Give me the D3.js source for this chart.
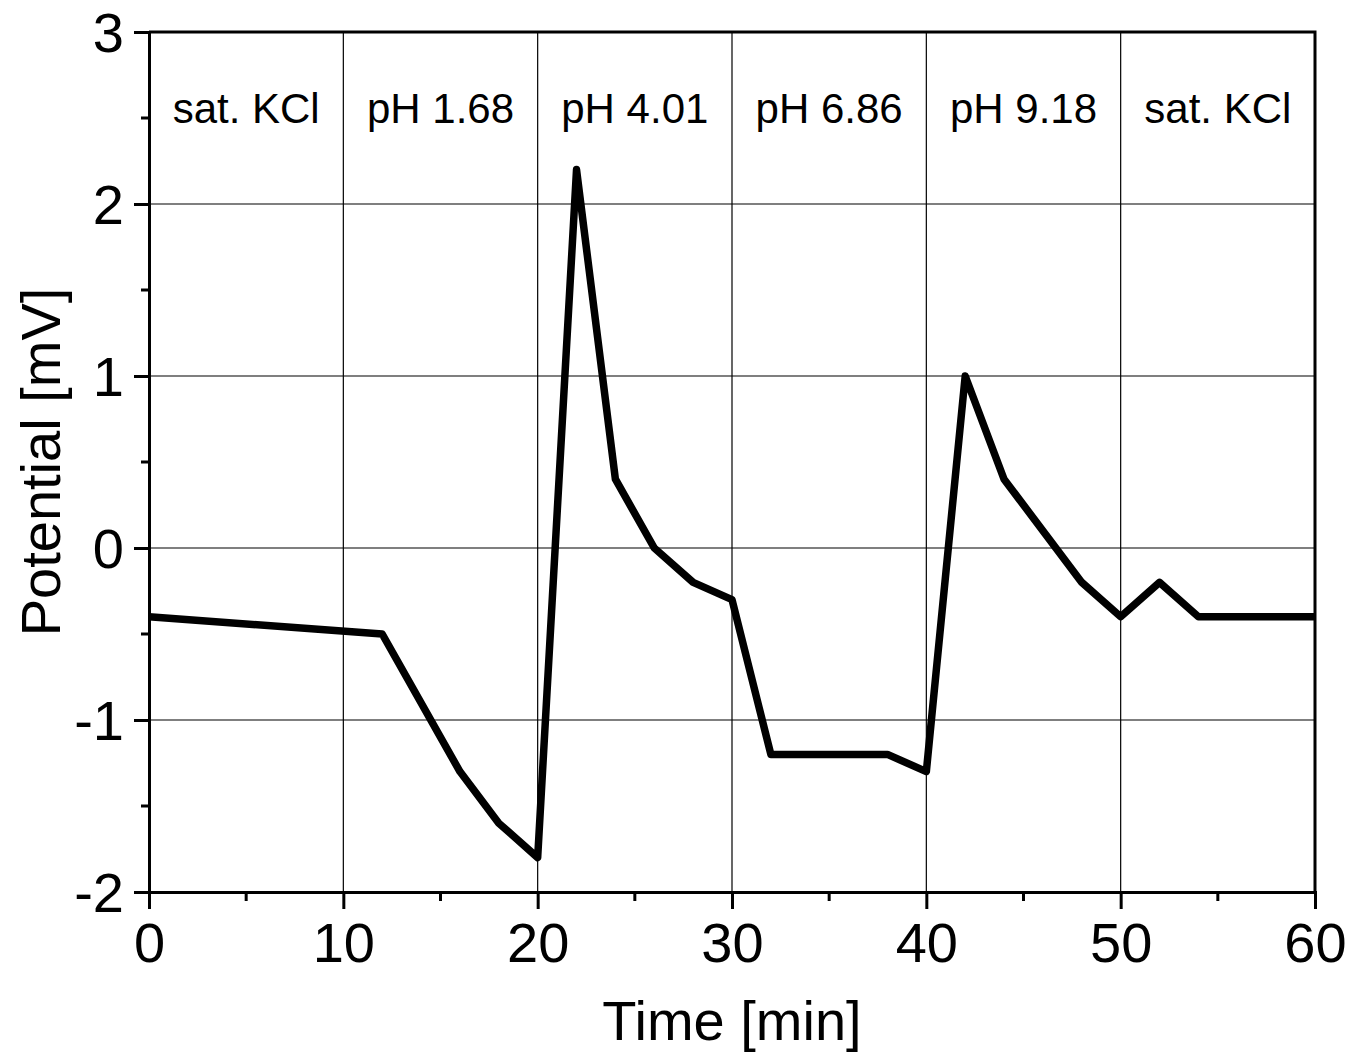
<!DOCTYPE html>
<html><head><meta charset="utf-8">
<script src="https://cdn.jsdelivr.net/npm/d3@7"></script>
<style>body{margin:0;background:#fff}svg{display:block}text{font-family:"Liberation Sans",Arial,sans-serif;fill:#000}</style>
</head><body>
<script>
const time = [0, 12, 16, 18, 20, 22, 24, 26, 28, 30, 32, 38, 40, 42, 44, 48, 50, 52, 54, 60];
const potential = [-0.4, -0.5, -1.3, -1.6, -1.8, 2.2, 0.4, 0.0, -0.2, -0.3, -1.2, -1.2, -1.3, 1.0, 0.4, -0.2, -0.4, -0.2, -0.4, -0.4];
const segmentLabels = ["sat. KCl", "pH 1.68", "pH 4.01", "pH 6.86", "pH 9.18", "sat. KCl"];
const segmentStarts = [0, 10, 20, 30, 40, 50];
const xTicks = [0, 10, 20, 30, 40, 50, 60];
const yTicks = [-2, -1, 0, 1, 2, 3];

const W = 1352, H = 1055;
const m = {left:149, right:1352-1315, top:32, bottom:1055-892};
const svg = d3.select("body").append("svg").attr("width", W).attr("height", H);
const x = d3.scaleLinear().domain([0,60]).range([m.left, W-m.right]);
const y = d3.scaleLinear().domain([-2,3]).range([H-m.bottom, m.top]);

// grid
const g = svg.append("g");
g.selectAll(".gx").data(xTicks.slice(1,-1)).join("line")
  .attr("x1", d=>x(d)).attr("x2", d=>x(d)).attr("y1", y(-2)).attr("y2", y(3))
  .attr("stroke","#000").attr("stroke-width",1.2);
g.selectAll(".gy").data(yTicks.slice(1,-1)).join("line")
  .attr("y1", d=>y(d)).attr("y2", d=>y(d)).attr("x1", x(0)).attr("x2", x(60))
  .attr("stroke","#000").attr("stroke-width",1.2);

// segment labels
svg.selectAll(".seg").data(segmentLabels).join("text")
  .attr("x", (d,i)=>x(segmentStarts[i]+5)).attr("y", 123)
  .attr("text-anchor","middle").attr("font-size", 42).text(d=>d);

// line
const line = d3.line().x((d,i)=>x(time[i])).y((d,i)=>y(potential[i]));
svg.append("path").datum(potential).attr("d", line).attr("fill","none")
  .attr("stroke","#000").attr("stroke-width",7.5).attr("stroke-linejoin","round").attr("stroke-linecap","butt");

// frame top/right
svg.append("path").attr("d", `M${x(0)},${y(3)}H${x(60)}V${y(-2)}`)
  .attr("fill","none").attr("stroke","#000").attr("stroke-width",3);

// axes
const xAxis = d3.axisBottom(x).tickValues(xTicks).tickSize(17).tickPadding(13).tickFormat(d3.format("d"));
const xa = svg.append("g").attr("transform",`translate(0,${y(-2)})`).call(xAxis);
const yAxis = d3.axisLeft(y).tickValues(yTicks).tickSize(15).tickPadding(10).tickFormat(d=>d<0?"-"+Math.abs(d):d);
const ya = svg.append("g").attr("transform",`translate(${x(0)},0)`).call(yAxis);
[xa,ya].forEach(a=>{
  a.select(".domain").attr("stroke","#000").attr("stroke-width",3);
  a.selectAll(".tick line").attr("stroke","#000").attr("stroke-width",3);
  a.selectAll(".tick text").attr("font-size",56).attr("font-family","Liberation Sans, Arial, sans-serif");
});
ya.selectAll(".tick text").attr("dy","0.34em");
// minor ticks
const xMinor = [5,15,25,35,45,55];
const yMinor = [-1.5,-0.5,0.5,1.5,2.5];
svg.selectAll(".mx").data(xMinor).join("line").attr("x1",d=>x(d)).attr("x2",d=>x(d))
  .attr("y1",y(-2)).attr("y2",y(-2)+9).attr("stroke","#000").attr("stroke-width",3);
svg.selectAll(".my").data(yMinor).join("line").attr("y1",d=>y(d)).attr("y2",d=>y(d))
  .attr("x1",x(0)).attr("x2",x(0)-8).attr("stroke","#000").attr("stroke-width",3);

// titles
svg.append("text").attr("x",(x(0)+x(60))/2).attr("y",1040).attr("text-anchor","middle")
  .attr("font-size",56).text("Time [min]");
svg.append("text").attr("transform",`translate(60,${(y(-2)+y(3))/2}) rotate(-90)`)
  .attr("text-anchor","middle").attr("font-size",56).text("Potential [mV]");
</script>
</body></html>
